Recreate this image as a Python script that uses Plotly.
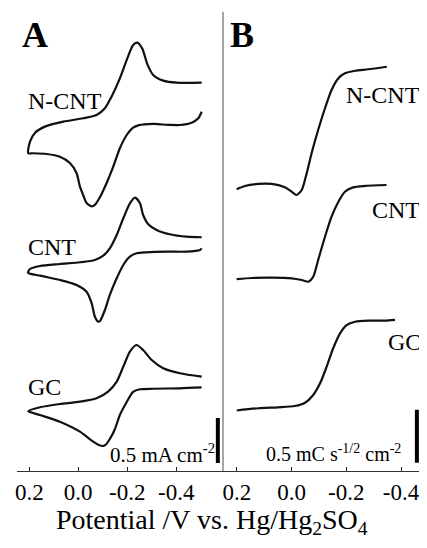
import plotly.graph_objects as go

# ---------------- Panel A: cyclic voltammograms (mA cm^-2) ----------------
ticks_v = [0.2, 0.0, -0.2, -0.4]
tick_labels = ["0.2", "0.0", "-0.2", "-0.4"]

# N-CNT (A)
ncnt_a_lower_v = [-0.504, -0.49, -0.463, -0.415, -0.374, -0.333, -0.306, -0.27, -0.248, -0.224, -0.198, -0.170,
                  -0.143, -0.116, -0.089, -0.068, -0.055, -0.034, -0.020, -0.007, 0.007, 0.034, 0.075, 0.129,
                  0.184, 0.204]
ncnt_a_lower_i = [0.492, 0.419, 0.37, 0.344, 0.345, 0.352, 0.356, 0.352, 0.343, 0.315, 0.233, 0.086,
                  -0.119, -0.3, -0.456, -0.544, -0.561, -0.522, -0.433, -0.341, -0.189, -0.078, -0.008, 0.022,
                  0.03, 0.03]
ncnt_a_upper_v = [0.204, 0.197, 0.177, 0.136, 0.061, -0.020, -0.075, -0.109, -0.136, -0.170, -0.198, -0.224,
                  -0.241, -0.262, -0.282, -0.306, -0.347, -0.402, -0.504]
ncnt_a_upper_i = [0.03, 0.159, 0.256, 0.326, 0.381, 0.419, 0.456, 0.530, 0.659, 0.863, 1.067, 1.233,
                  1.259, 1.19, 1.02, 0.9, 0.837, 0.814, 0.814]

# CNT (A)
cnt_a_lower_v = [-0.504, -0.497, -0.442, -0.361, -0.279, -0.238, -0.211, -0.184, -0.157, -0.129, -0.109, -0.089,
                 -0.082, -0.068, -0.055, -0.034, 0.007, 0.075, 0.156, 0.205]
cnt_a_lower_i = [0.274, 0.256, 0.237, 0.237, 0.23, 0.219, 0.181, 0.089, -0.059, -0.244, -0.411, -0.533,
                 -0.541, -0.486, -0.337, -0.208, -0.133, -0.078, -0.03, 0.003]
cnt_a_upper_v = [0.205, 0.197, 0.156, 0.075, -0.007, -0.068, -0.102, -0.129, -0.157, -0.184, -0.211, -0.232,
                 -0.252, -0.265, -0.286, -0.320, -0.374, -0.442, -0.504]
cnt_a_upper_i = [0.003, 0.044, 0.078, 0.1, 0.119, 0.144, 0.192, 0.274, 0.422, 0.608, 0.774, 0.837,
                 0.774, 0.644, 0.541, 0.478, 0.43, 0.403, 0.397]

# GC (A)
gc_a_lower_v = [-0.504, -0.415, -0.306, -0.252, -0.224, -0.198, -0.170, -0.150, -0.129, -0.113, -0.102, -0.084,
                -0.061, -0.007, 0.075, 0.156, 0.204]
gc_a_lower_i = [0.278, 0.269, 0.264, 0.258, 0.228, 0.117, -0.028, -0.183, -0.294, -0.356, -0.372, -0.361,
                -0.324, -0.213, -0.102, -0.028, 0.014]
gc_a_upper_v = [0.204, 0.156, 0.075, -0.007, -0.075, -0.122, -0.157, -0.184, -0.211, -0.238, -0.265, -0.3,
                -0.347, -0.415, -0.504]
gc_a_upper_i = [0.014, 0.058, 0.094, 0.12, 0.158, 0.231, 0.342, 0.509, 0.676, 0.75, 0.694, 0.583,
                0.491, 0.436, 0.398]

offsets_a = {"N-CNT": 3.5, "CNT": 2.2, "GC": 0.65}

# ---------------- Panel B (mC s^-1/2 cm^-2) ----------------
ncnt_b_v = [0.201, 0.171, 0.122, 0.073, 0.025, 0.0, -0.018, -0.037, -0.055, -0.073, -0.097, -0.122,
            -0.146, -0.171, -0.195, -0.232, -0.28, -0.348]
ncnt_b_q = [0.058, 0.089, 0.108, 0.108, 0.076, 0.035, 0.004, 0.051, 0.208, 0.397, 0.617, 0.822,
            0.994, 1.105, 1.152, 1.176, 1.19, 1.214]

cnt_b_v = [0.201, 0.146, 0.073, 0.0, -0.037, -0.061, -0.079, -0.097, -0.122, -0.146, -0.171, -0.195,
           -0.225, -0.268, -0.347]
cnt_b_q = [0.011, 0.021, 0.024, 0.018, 0.002, -0.014, 0.033, 0.191, 0.41, 0.599, 0.741, 0.835,
           0.876, 0.889, 0.898]

gc_b_v = [0.201, 0.122, 0.049, -0.012, -0.049, -0.079, -0.104, -0.128, -0.152, -0.177, -0.201, -0.232,
          -0.28, -0.341, -0.378]
gc_b_q = [-0.029, -0.008, 0.001, 0.013, 0.044, 0.117, 0.227, 0.384, 0.558, 0.699, 0.777, 0.808,
          0.818, 0.818, 0.825]

offsets_b = {"N-CNT": 2.6, "CNT": 1.8, "GC": 0.6}

FONT = "Liberation Serif"
LINE = dict(color="#111111", width=2.2, shape="spline", smoothing=0.7)

fig = go.Figure()

cv_a = {
    "N-CNT": (ncnt_a_lower_v, ncnt_a_lower_i, ncnt_a_upper_v, ncnt_a_upper_i),
    "CNT": (cnt_a_lower_v, cnt_a_lower_i, cnt_a_upper_v, cnt_a_upper_i),
    "GC": (gc_a_lower_v, gc_a_lower_i, gc_a_upper_v, gc_a_upper_i),
}
for name, (lv, li, uv, ui) in cv_a.items():
    v = lv + uv[1:]
    i = [val + offsets_a[name] for val in li + ui[1:]]
    fig.add_trace(go.Scatter(x=v, y=i, mode="lines", line=LINE, xaxis="x", yaxis="y",
                             showlegend=False, hoverinfo="skip"))

curves_b = {"N-CNT": (ncnt_b_v, ncnt_b_q), "CNT": (cnt_b_v, cnt_b_q), "GC": (gc_b_v, gc_b_q)}
for name, (v, q) in curves_b.items():
    fig.add_trace(go.Scatter(x=v, y=[val + offsets_b[name] for val in q], mode="lines", line=LINE,
                             xaxis="x2", yaxis="y2", showlegend=False, hoverinfo="skip"))

# scale bars (0.5 units each)
fig.add_trace(go.Scatter(x=[-0.570, -0.570], y=[0.089, 0.589], mode="lines",
                         line=dict(color="black", width=4), xaxis="x", yaxis="y",
                         showlegend=False, hoverinfo="skip"))
fig.add_trace(go.Scatter(x=[-0.458, -0.458], y=[0.078, 0.578], mode="lines",
                         line=dict(color="black", width=4), xaxis="x2", yaxis="y2",
                         showlegend=False, hoverinfo="skip"))

SPLIT = 0.5024
xcommon = dict(tickvals=ticks_v, ticktext=tick_labels, ticks="inside", ticklen=4, tickwidth=1,
               tickcolor="#222", showline=True, linecolor="#333", linewidth=1, showgrid=False,
               zeroline=False, automargin=False, tickfont=dict(family=FONT, size=23, color="black"))
ycommon = dict(visible=False, showgrid=False, zeroline=False)

# page body has an 8px default margin: figure is sized/placed to compensate
fig.update_layout(
    width=419, height=532,
    margin=dict(l=9, r=0, t=0, b=69, autoexpand=False),
    paper_bgcolor="white", plot_bgcolor="white",
    xaxis=dict(domain=[0, SPLIT], range=[0.25, -0.591], anchor="y", **xcommon),
    xaxis2=dict(domain=[SPLIT, 1], range=[0.251, -0.495], anchor="y2", **xcommon),
    yaxis=dict(range=[0, 5.144], anchor="x", **ycommon),
    yaxis2=dict(range=[0, 4.368], anchor="x2", **ycommon),
    shapes=[dict(type="line", xref="paper", yref="paper", x0=SPLIT, x1=SPLIT, y0=0, y1=0.992,
                 line=dict(color="#888888", width=1.5))],
)

ann = []
lab_font = dict(family=FONT, size=24, color="black")
ann.append(dict(x=0.177, y=4.844, xref="x", yref="y", text="<b>A</b>", showarrow=False,
                font=dict(family=FONT, size=36, color="black")))
ann.append(dict(x=0.182, y=4.118, xref="x2", yref="y2", text="<b>B</b>", showarrow=False,
                font=dict(family=FONT, size=36, color="black")))
ann.append(dict(x=0.212, y=4.111, xref="x", yref="y", text="N-CNT", xanchor="left", showarrow=False, font=lab_font))
ann.append(dict(x=0.212, y=2.489, xref="x", yref="y", text="CNT", xanchor="left", showarrow=False, font=lab_font))
ann.append(dict(x=0.212, y=0.933, xref="x", yref="y", text="GC", xanchor="left", showarrow=False, font=lab_font))
ann.append(dict(x=-0.477, y=3.547, xref="x2", yref="y2", text="N-CNT", xanchor="right", showarrow=False, font=lab_font))
ann.append(dict(x=-0.477, y=2.462, xref="x2", yref="y2", text="CNT", xanchor="right", showarrow=False, font=lab_font))
ann.append(dict(x=-0.480, y=1.217, xref="x2", yref="y2", text="GC", xanchor="right", showarrow=False, font=lab_font))
ann.append(dict(x=-0.566, y=0.194, xref="x", yref="y", text="0.5 mA cm<sup>-2</sup>", xanchor="right",
                yanchor="middle", showarrow=False, font=dict(family=FONT, size=21, color="black")))
ann.append(dict(x=-0.407, y=0.17, xref="x2", yref="y2", text="0.5 mC s<sup>-1/2</sup> cm<sup>-2</sup>",
                xanchor="right", yanchor="middle", showarrow=False,
                font=dict(family=FONT, size=20, color="black")))
ann.append(dict(x=0.4756, y=-0.110, xref="paper", yref="paper",
                text="Potential /V vs. Hg/Hg<sub>2</sub>SO<sub>4</sub>", showarrow=False,
                yanchor="middle", font=dict(family=FONT, size=28, color="black")))
fig.update_layout(annotations=ann)

fig.write_html("out.html")
